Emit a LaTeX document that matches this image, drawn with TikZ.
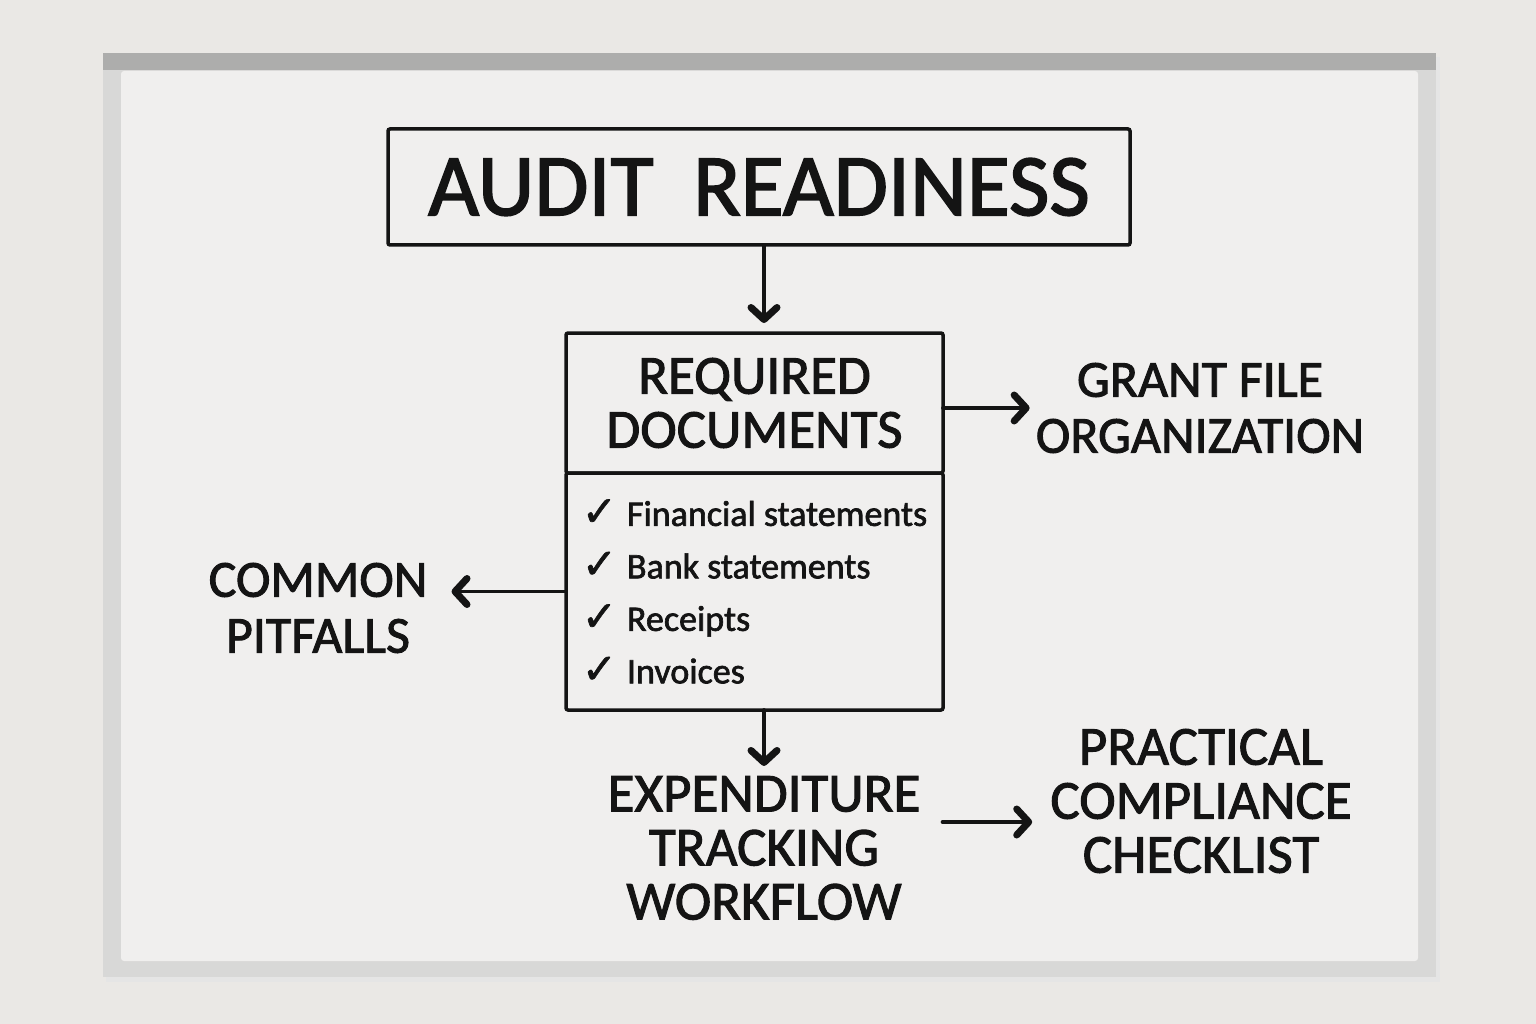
\documentclass[tikz,border=0pt]{standalone}
\usepackage{fontspec}
\setmainfont{Carlito}[RawFeature={embolden=1.8}]
\newfontfamily\symfont{DejaVu Sans}[RawFeature={embolden=1.5}]
\usetikzlibrary{positioning,calc,arrows.meta}

\definecolor{wall}{HTML}{EAE8E5}
\definecolor{board}{HTML}{F0EFEE}
\definecolor{rim}{HTML}{D8D8D7}
\definecolor{rimtop}{HTML}{ADADAC}
\definecolor{ink}{HTML}{141414}

\newcommand{\chk}{{\fontsize{42}{42}\symfont\char"2713}\hspace{10pt}}

\tikzset{
  box/.style={draw=ink, line width=3.5pt, rounded corners=2pt, inner sep=0pt, outer sep=0pt},
  hw/.style={text=ink, align=center, inner sep=0pt, font=\fontsize{55}{54}\selectfont},
  conn/.style={draw=ink, line width=3.8pt, line cap=round,
    -{Straight Barb[length=12pt,width=26pt,line width=7pt,round]}}
}

\begin{document}
\begin{tikzpicture}[x=1pt,y=-1pt]
  % wall and board
  \fill[wall] (0,0) rectangle (1536,1024);
  \fill[black!10] (106,57) rectangle (1440,982);
  \fill[rim] (103,53) rectangle (1436,977);
  \fill[rimtop] (103,53) rectangle (1436,70);
  \fill[board, rounded corners=3pt] (121,71) rectangle (1418,961);

  \node[box, minimum width=742pt, minimum height=116pt,
        font=\fontsize{88}{88}\selectfont, text=ink] (title) at (759,187) {AUDIT\hspace{0.45em}READINESS};
  \node[box, hw, minimum width=377pt, minimum height=140pt] (req) at (754.5,403) {REQUIRED\\DOCUMENTS};
  \node[box, hw, below=0pt of req, minimum width=377pt, minimum height=237pt, align=left,
        font=\fontsize{36}{52.5}\selectfont] (docs)
        {\chk Financial statements\\\chk Bank statements\\\chk Receipts\\\chk Invoices};

  \node[hw, font=\fontsize{52}{56}\selectfont] (grant) at (1200,408) {GRANT FILE\\ORGANIZATION};
  \node[hw, font=\fontsize{52}{56}\selectfont] (pitfalls) at (318,608) {COMMON\\PITFALLS};
  \node[hw] (expend) at (764,848) {EXPENDITURE\\TRACKING\\WORKFLOW};
  \node[hw] (check) at (1201,801) {PRACTICAL\\COMPLIANCE\\CHECKLIST};

  \draw[conn, shorten >=10pt] (title.south -| expend) -- (req.north -| expend);
  \draw[conn, shorten >=6pt] (req.east |- grant) -- (grant.west);
  \draw[conn, shorten >=24pt] (docs.west) -- (pitfalls.east |- docs.west);
  \draw[conn, shorten >=10pt] (docs.south -| expend) -- (expend.north);
  \draw[conn, shorten >=18pt] ([xshift=22pt,yshift=26pt]expend.east) -- ([yshift=26pt]expend.east -| check.west);
\end{tikzpicture}
\end{document}
